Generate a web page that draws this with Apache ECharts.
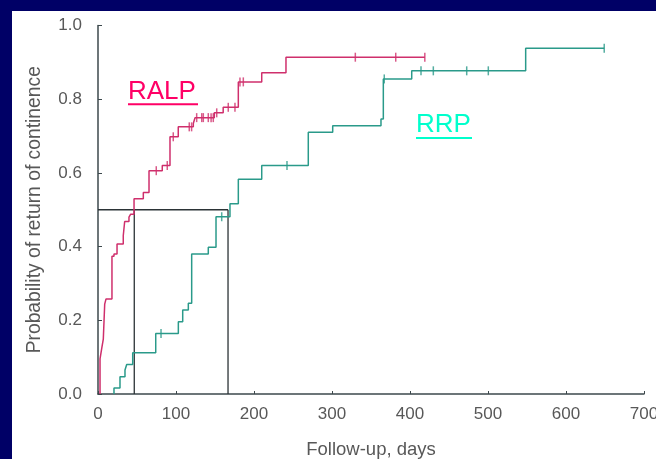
<!DOCTYPE html>
<html>
<head>
<meta charset="utf-8">
<script src="https://cdn.jsdelivr.net/npm/echarts@6/dist/echarts.min.js"></script>
<style>
  html, body { margin: 0; padding: 0; background: #000066; width: 656px; height: 459px; overflow: hidden; }
  #panel { position: absolute; left: 12px; top: 11px; width: 644px; height: 448px; background: #ffffff; }
</style>
</head>
<body>
<div id="panel"></div>
<script>
// Kaplan-Meier: return of continence after RALP vs RRP
// Each step: at day[i] the probability rises to prob[i]
const ralpDays = [2.6, 5.1, 6.8, 8.6, 10.3, 17.9, 20.5, 24.4, 32.4, 34.2, 39.7, 41.9, 46.2, 58.1, 65.4, 82.4, 92.3, 102.9, 122.2, 124.4, 149.1, 160.5, 179.9, 209.9, 241.0];
const ralpProb = [0.095, 0.128, 0.149, 0.244, 0.258, 0.374, 0.38, 0.407, 0.43, 0.468, 0.48, 0.488, 0.53, 0.547, 0.606, 0.62, 0.698, 0.725, 0.734, 0.75, 0.763, 0.778, 0.847, 0.872, 0.914];
const ralpLastDay = 419;
const ralpCensored = [74.7, 88.8, 96.5, 117, 120, 126.5, 133, 135, 141.4, 145, 147.8, 152.2, 167, 175.6, 182, 186.3, 329.9, 381.7, 419];

const rrpDays = [20.5, 28.2, 34.6, 36.8, 44.5, 74.0, 103.0, 108.6, 115.8, 120.1, 141.4, 151.3, 169.2, 179.9, 209.9, 269.6, 300.9, 362.8, 365.8, 402.2, 548.3];
const rrpProb = [0.016, 0.047, 0.065, 0.08, 0.112, 0.164, 0.196, 0.228, 0.246, 0.38, 0.398, 0.481, 0.516, 0.583, 0.62, 0.71, 0.728, 0.746, 0.855, 0.877, 0.938];
const rrpLastDay = 649;
const rrpCensored = [80.8, 158.6, 242.3, 367, 414.1, 429.9, 472.7, 500.4, 649];

// Median return times and the 50% level
const medianLevel = 0.5;
const ralpMedian = 46.5;
const rrpMedian = 166.7;

const xTicks = [0, 100, 200, 300, 400, 500, 600, 700];
const yTicks = [0, 0.2, 0.4, 0.6, 0.8, 1.0];

const RALP_COLOR = '#cf2f6c';
const RRP_COLOR = '#2a9a8a';

function stepData(days, probs, lastDay) {
  const pts = [[days[0], 0]];
  days.forEach((d, i) => pts.push([d, probs[i]]));
  pts.push([lastDay, probs[probs.length - 1]]);
  return pts;
}
function levelAt(days, probs, t) {
  let p = 0;
  for (let i = 0; i < days.length; i++) if (days[i] <= t) p = probs[i];
  return p;
}
function censorData(days, probs, marks) {
  return marks.map(t => [t, levelAt(days, probs, t)]);
}

const chart = echarts.init(document.getElementById('panel'), null, { renderer: 'canvas' });
const labelFont = 'Liberation Sans';
const axisColor = '#3c484c';
const textColor = '#585858';

chart.setOption({
  animation: false,
  grid: { left: 86, right: 12, top: 14.5, bottom: 65, outerBoundsMode: 'none', containLabel: false },
  xAxis: {
    type: 'value', min: xTicks[0], max: xTicks[xTicks.length - 1], interval: 100,
    name: 'Follow-up, days', nameLocation: 'middle', nameGap: 46,
    nameTextStyle: { color: textColor, fontSize: 18.5, fontFamily: labelFont },
    axisLine: { lineStyle: { color: axisColor, width: 1.5 } },
    axisTick: { inside: true, length: 3, lineStyle: { color: axisColor } },
    axisLabel: { color: textColor, fontSize: 17, fontFamily: labelFont, margin: 12 },
    splitLine: { show: false }
  },
  yAxis: {
    type: 'value', min: yTicks[0], max: yTicks[yTicks.length - 1], interval: 0.2,
    name: 'Probability of return of continence', nameLocation: 'middle', nameGap: 54,
    nameTextStyle: { color: textColor, fontSize: 19.3, fontFamily: labelFont },
    axisLine: { show: true, lineStyle: { color: axisColor, width: 1.5 } },
    axisTick: { show: true, inside: true, length: 4, lineStyle: { color: axisColor } },
    axisLabel: { color: textColor, fontSize: 17, fontFamily: labelFont, margin: 16, formatter: v => v.toFixed(1) },
    splitLine: { show: false }
  },
  graphic: [
    { type: 'text', left: 116, top: 68, style: { text: 'RALP', fill: '#ff0066', font: '26px "Liberation Sans"' } },
    { type: 'rect', shape: { x: 116, y: 92.3, width: 70, height: 2 }, style: { fill: '#ff0066' } },
    { type: 'text', left: 404, top: 101, style: { text: 'RRP', fill: '#00ffcc', font: '26px "Liberation Sans"' } },
    { type: 'rect', shape: { x: 404, y: 126, width: 56, height: 2 }, style: { fill: '#00ffcc' } }
  ],
  series: [
    {
      type: 'line', step: 'end', data: stepData(ralpDays, ralpProb, ralpLastDay),
      showSymbol: false, lineStyle: { color: RALP_COLOR, width: 1.5 }, z: 3
    },
    {
      type: 'line', step: 'end', data: stepData(rrpDays, rrpProb, rrpLastDay),
      showSymbol: false, lineStyle: { color: RRP_COLOR, width: 1.5 }, z: 3
    },
    {
      type: 'scatter', data: censorData(ralpDays, ralpProb, ralpCensored),
      symbol: 'rect', symbolSize: [1.5, 9], itemStyle: { color: RALP_COLOR }, z: 4
    },
    {
      type: 'scatter', data: censorData(rrpDays, rrpProb, rrpCensored),
      symbol: 'rect', symbolSize: [1.5, 9], itemStyle: { color: RRP_COLOR }, z: 4
    },
    {
      type: 'line', data: [[0, medianLevel], [rrpMedian, medianLevel]],
      showSymbol: false, lineStyle: { color: '#2b3336', width: 1.3 }, z: 2
    },
    {
      type: 'line', data: [[ralpMedian, 0], [ralpMedian, medianLevel]],
      showSymbol: false, lineStyle: { color: '#2b3336', width: 1.3 }, z: 2
    },
    {
      type: 'line', data: [[rrpMedian, 0], [rrpMedian, medianLevel]],
      showSymbol: false, lineStyle: { color: '#2b3336', width: 1.3 }, z: 2
    }
  ]
});
</script>
</body>
</html>
